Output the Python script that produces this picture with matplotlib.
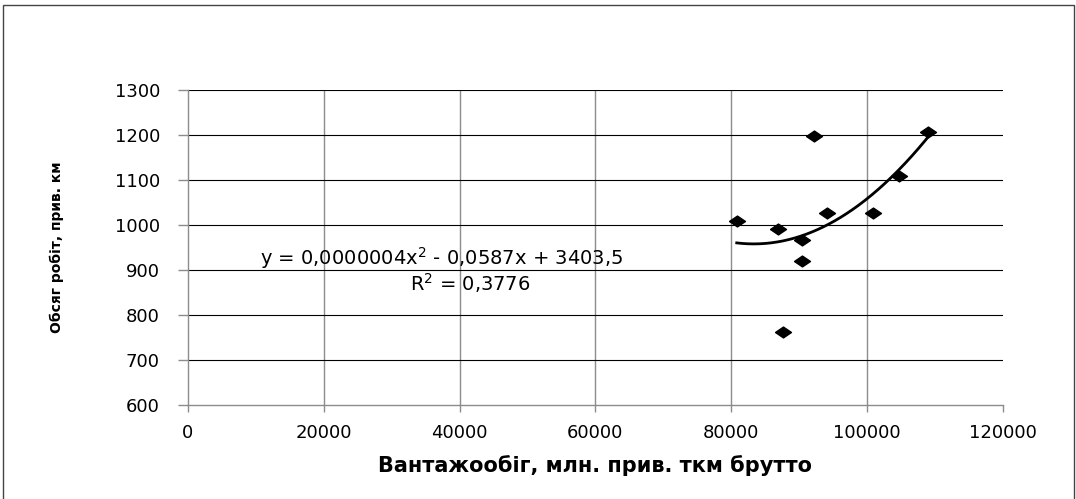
import numpy as np
import matplotlib.pyplot as plt
from matplotlib.patches import Rectangle

# Обсяг робіт vs вантажообіг
freight = [80800, 86900, 87600, 90400, 90400, 92200, 94100, 100900, 104700, 109000]
work = [1009, 990, 763, 967, 921, 1198, 1026, 1026, 1109, 1206]

x_ticks = [0, 20000, 40000, 60000, 80000, 100000, 120000]
y_ticks = [600, 700, 800, 900, 1000, 1100, 1200, 1300]

eq_text = "y = 0,0000004x$^2$ - 0,0587x + 3403,5"
r2_text = "R$^2$ = 0,3776"

FONT = 'DejaVu Sans'
GRID_DARK = '#000000'
GRID_GRAY = '#8c8c8c'

fig = plt.figure(figsize=(10.76, 4.99), dpi=100)
fig.patch.set_facecolor('white')

# thin frame round the whole chart area
fig.patches.append(Rectangle((3 / 1076, -2 / 499), 1071 / 1076, 496 / 499,
                             transform=fig.transFigure, fill=False,
                             edgecolor='#444444', linewidth=1.0))

ax = fig.add_axes([0.1745, 0.1884, 0.7577, 0.6313])
ax.set_xlim(0, 120000)
ax.set_ylim(600, 1300)
ax.set_xticks(x_ticks)
ax.set_yticks(y_ticks)
ax.set_xticklabels([str(t) for t in x_ticks], fontfamily=FONT, fontsize=13)
ax.set_yticklabels([str(t) for t in y_ticks], fontfamily=FONT, fontsize=13)

for side in ('top', 'right'):
    ax.spines[side].set_visible(False)
for side in ('left', 'bottom'):
    ax.spines[side].set_color(GRID_GRAY)
    ax.spines[side].set_linewidth(1.0)

ax.tick_params(axis='y', direction='out', length=7, width=1, color=GRID_GRAY, pad=13)
ax.tick_params(axis='x', direction='out', length=5, width=1, color=GRID_GRAY, pad=9)

# horizontal grid black, vertical grid gray
ax.yaxis.grid(True, color=GRID_DARK, linewidth=0.8)
ax.xaxis.grid(True, color=GRID_GRAY, linewidth=1.0)
ax.get_xgridlines()[0].set_visible(False)
ax.get_xgridlines()[-1].set_visible(False)
ax.get_ygridlines()[0].set_visible(False)
ax.set_axisbelow(True)

# diamonds
diamond = [(-1, 0), (0, 0.68), (1, 0), (0, -0.68), (-1, 0)]
ax.plot(freight, work, linestyle='none', marker=diamond, markersize=11.5,
        color='black', zorder=3)

# second-order polynomial trend
coef = np.polyfit(freight, work, 2)
xs = np.linspace(min(freight), max(freight), 200)
ax.plot(xs, np.polyval(coef, xs), color='black', linewidth=2.0, zorder=4)

ax.text(37400, 926, eq_text, fontfamily=FONT, fontsize=14,
        ha='center', va='center', zorder=5)
ax.text(41600, 872, r2_text, fontfamily=FONT, fontsize=14,
        ha='center', va='center', zorder=5)

ax.set_xlabel("Вантажообіг, млн. прив. ткм брутто", fontfamily=FONT,
              fontsize=15, fontweight='bold', labelpad=9)
fig.text(57 / 1076, 1 - 247 / 499, "Обсяг робіт, прив. км", fontfamily=FONT,
         fontsize=10, fontweight='bold', rotation=90, ha='center', va='center')

fig.savefig('out.png', dpi=100, facecolor='white')
